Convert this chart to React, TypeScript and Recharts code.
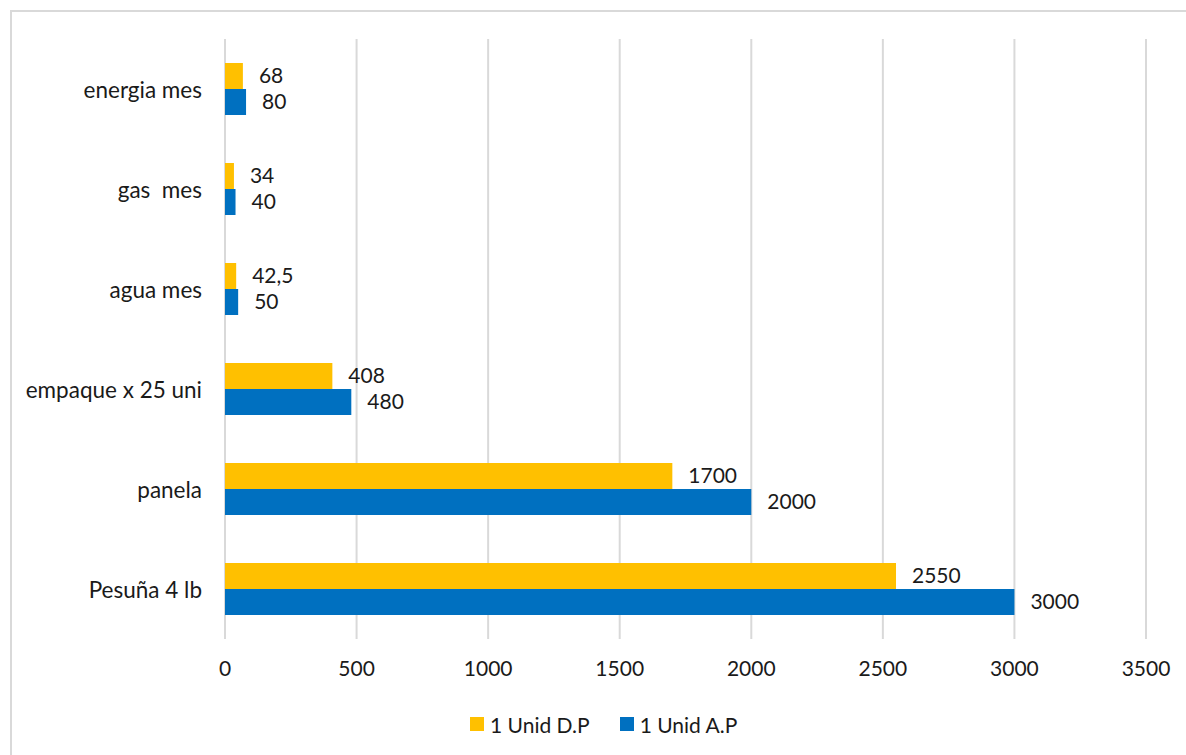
import React from 'react';
import { BarChart, Bar, XAxis, YAxis, CartesianGrid, LabelList, Legend } from 'recharts';

const categories = ['energia mes', 'gas  mes', 'agua mes', 'empaque x 25 uni', 'panela', 'Pesuña 4 lb'];
const unidDP = [68, 34, 42.5, 408, 1700, 2550];
const unidAP = [80, 40, 50, 480, 2000, 3000];
const xTicks = [0, 500, 1000, 1500, 2000, 2500, 3000, 3500];
const seriesNames = ['1 Unid D.P', '1 Unid A.P'];
const seriesColors = ['#FFC000', '#0070C0'];

const data = categories.map((c, i) => ({ name: c, dp: unidDP[i], ap: unidAP[i] }));

const FONT = 'Lato, "Open Sans", sans-serif';
const TEXT = '#1a1a1a';

const fmt = (v: any) => String(v).replace('.', ',');

const CategoryTick = (props: any) => {
  const { x, y, payload } = props;
  return (
    <text
      x={x}
      y={y}
      textAnchor="end"
      dominantBaseline="central"
      fontFamily={FONT}
      fontSize={22.5}
      fill={TEXT}
      style={{ whiteSpace: 'pre' }}
    >
      {payload.value}
    </text>
  );
};

const renderLegend = () => (
  <div style={{ display: 'flex', alignItems: 'center', height: 28, fontFamily: FONT, fontSize: 21, color: TEXT }}>
    {seriesNames.map((n, i) => (
      <div key={n} style={{ display: 'flex', alignItems: 'center', marginRight: 30 }}>
        <div style={{ width: 14, height: 14, background: seriesColors[i], marginRight: 6 }} />
        <span>{n}</span>
      </div>
    ))}
  </div>
);

export default function App() {
  return (
    <div>
      <div
        style={{
          position: 'fixed',
          left: 10,
          top: 10,
          width: 1200,
          height: 760,
          borderLeft: '2px solid #d9d9d9',
          borderTop: '2px solid #d9d9d9',
          boxSizing: 'border-box',
          background: '#fff',
        }}
      />
      <div style={{ position: 'fixed', left: 0, top: 0 }}>
        <BarChart
          width={1186}
          height={755}
          data={data}
          layout="vertical"
          margin={{ top: 39, right: 40, bottom: 17, left: 0 }}
          barGap={0}
        >
          <CartesianGrid horizontal={false} stroke="#d9d9d9" strokeWidth={2} />
          <XAxis
            type="number"
            domain={[0, 3500]}
            ticks={xTicks}
            axisLine={false}
            tickLine={false}
            tickSize={0}
            tickMargin={22}
            height={71}
            tick={{ fontFamily: FONT, fontSize: 21, fill: TEXT }}
          />
          <YAxis
            type="category"
            dataKey="name"
            width={225}
            axisLine={false}
            tickLine={false}
            tickSize={0}
            tickMargin={23}
            tick={<CategoryTick />}
          />
          <Legend verticalAlign="bottom" content={renderLegend} wrapperStyle={{ left: 470, width: 320 }} />
          <Bar dataKey="dp" name={seriesNames[0]} fill={seriesColors[0]} barSize={26} isAnimationActive={false}>
            <LabelList dataKey="dp" position="right" offset={16} formatter={fmt} style={{ fontFamily: FONT, fontSize: 21, fill: TEXT }} />
          </Bar>
          <Bar dataKey="ap" name={seriesNames[1]} fill={seriesColors[1]} barSize={26} isAnimationActive={false}>
            <LabelList dataKey="ap" position="right" offset={16} formatter={fmt} style={{ fontFamily: FONT, fontSize: 21, fill: TEXT }} />
          </Bar>
        </BarChart>
      </div>
    </div>
  );
}
